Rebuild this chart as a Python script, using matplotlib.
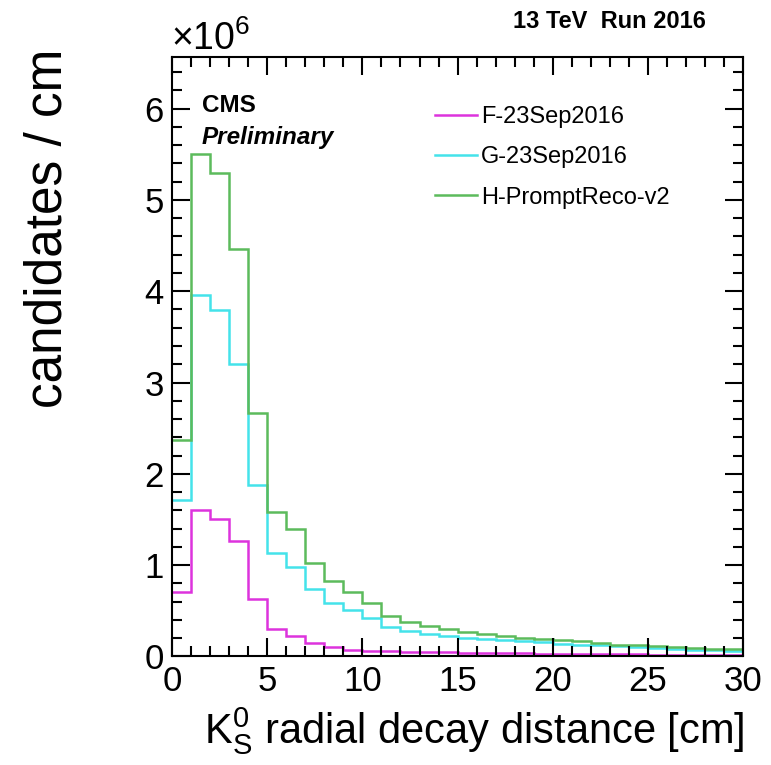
import numpy as np
import matplotlib
matplotlib.use("Agg")
from matplotlib import pyplot as plt
from matplotlib.ticker import MultipleLocator

plt.rcParams['font.family'] = ['Liberation Sans', 'DejaVu Sans']
plt.rcParams['mathtext.fontset'] = 'custom'
plt.rcParams['mathtext.rm'] = 'Liberation Sans'
plt.rcParams['mathtext.it'] = 'Liberation Sans:italic'

# bin edges in cm, 1 cm bins
edges = np.arange(0, 31, 1)

# candidates / cm, in units of 1e6
runF = [0.71, 1.60, 1.51, 1.26, 0.63, 0.30, 0.22, 0.15, 0.10, 0.075,
        0.06, 0.055, 0.05, 0.05, 0.045, 0.04, 0.04, 0.035, 0.035, 0.03,
        0.03, 0.03, 0.025, 0.025, 0.025, 0.02, 0.02, 0.02, 0.02, 0.015]
runG = [1.71, 3.96, 3.79, 3.20, 1.88, 1.13, 0.98, 0.74, 0.59, 0.51,
        0.42, 0.32, 0.28, 0.24, 0.22, 0.205, 0.19, 0.175, 0.165, 0.155,
        0.14, 0.13, 0.12, 0.11, 0.10, 0.095, 0.085, 0.075, 0.07, 0.06]
runH = [2.37, 5.50, 5.30, 4.46, 2.67, 1.58, 1.39, 1.02, 0.83, 0.71,
        0.59, 0.44, 0.38, 0.33, 0.30, 0.27, 0.245, 0.22, 0.205, 0.19,
        0.18, 0.165, 0.15, 0.13, 0.125, 0.115, 0.105, 0.095, 0.085, 0.08]

labels = ['F-23Sep2016', 'G-23Sep2016', 'H-PromptReco-v2']
colors = ['#dd33dd', '#44e3ea', '#5cbb5c']

fig = plt.figure(figsize=(7.71, 7.65), dpi=100)
# frame: x 172..743 px, y 57..657 px
ax = fig.add_axes([0.223, 0.142, 0.741, 0.784])

for vals, lab, col in zip([runF, runG, runH], labels, colors):
    ax.stairs(vals, edges, color=col, linewidth=1.8, label=lab, baseline=None)

ax.set_xlim(0, 30)
ax.set_ylim(0, 6.57)
ax.xaxis.set_major_locator(MultipleLocator(5))
ax.xaxis.set_minor_locator(MultipleLocator(1))
ax.yaxis.set_major_locator(MultipleLocator(1))
ax.yaxis.set_minor_locator(MultipleLocator(0.2))
ax.tick_params(which='both', direction='in', top=True, right=True, width=1.5, labelsize=25)
ax.tick_params(which='major', length=13)
ax.tick_params(which='minor', length=7)
ax.tick_params(axis='x', pad=6)
ax.tick_params(axis='y', pad=6)
for s in ax.spines.values():
    s.set_linewidth(1.5)

ax.set_xlabel(r'$\mathregular{K^0_S}$ radial decay distance [cm]', fontsize=30, loc='right')
ax.xaxis.set_label_coords(1.003, -0.145)
ax.xaxis.label.set_va('baseline')

fig.text(0.062, 0.936, 'candidates / cm', fontsize=37, rotation=90, ha='center', va='top')

fig.text(0.222, 0.935, r'$\times10^{6}$', fontsize=27, ha='left', va='baseline')
fig.text(0.915, 0.963, '13 TeV  Run 2016', fontsize=17, fontweight='bold', ha='right', va='baseline')
ax.text(0.0525, 0.908, 'CMS', transform=ax.transAxes, fontsize=17.5, fontweight='bold', va='baseline')
ax.text(0.0525, 0.855, 'Preliminary', transform=ax.transAxes, fontsize=17.5,
        fontweight='bold', style='italic', va='baseline')

ax.legend(loc='upper left', bbox_to_anchor=(0.4606, 0.918), frameon=False, fontsize=17,
          borderaxespad=0, borderpad=0,
          handlelength=1.78, handletextpad=0.15, labelspacing=0.78,
          handles=[plt.Line2D([], [], color=c, linewidth=1.8) for c in colors], labels=labels)

fig.savefig('out.png', dpi=100)
